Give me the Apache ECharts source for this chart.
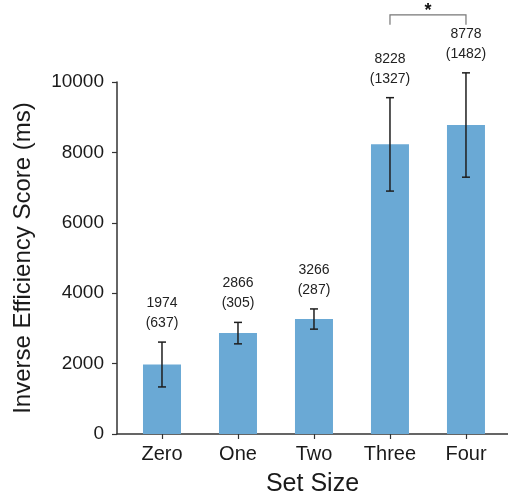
<!DOCTYPE html>
<html>
<head>
<meta charset="utf-8">
<script src="https://cdn.jsdelivr.net/npm/echarts@6/dist/echarts.min.js"></script>
<style>
  html, body { margin: 0; padding: 0; background: #fff; }
  #chart { width: 508px; height: 500px; }
</style>
</head>
<body>
<div id="chart"></div>
<script>
// Set-size conditions and their mean inverse efficiency scores (ms) with SD
const categories = ['Zero', 'One', 'Two', 'Three', 'Four'];
const meanScores = [1974, 2866, 3266, 8228, 8778];
const sdScores = [637, 305, 287, 1327, 1482];
const yTicks = [0, 2000, 4000, 6000, 8000, 10000];
// Significant comparison between two conditions (indices) and its marker
const sigPair = [3, 4];
const sigMark = '*';

const FONT = '"Liberation Sans", Arial, Helvetica, sans-serif';
const positions = categories.map((_, i) => i);

const barData = positions.map(i => [i, meanScores[i]]);
const errData = positions.map(i => [i, meanScores[i], sdScores[i]]);
const pairPeak = Math.max(...sigPair.map(i => meanScores[i] + sdScores[i]));
const sigData = [[sigPair[0], sigPair[1], pairPeak]];

const chart = echarts.init(document.getElementById('chart'), null, { renderer: 'canvas' });

chart.setOption({
  animation: false,
  backgroundColor: '#fff',
  grid: { left: 117, right: 0, top: 82, bottom: 66, containLabel: false, outerBoundsMode: 'none' },
  xAxis: {
    type: 'value',
    min: -0.592,
    max: 4.553,
    name: 'Set Size',
    nameLocation: 'middle',
    nameGap: 38,
    nameTextStyle: { fontFamily: FONT, fontSize: 25, color: '#1a1a1a' },
    splitLine: { show: false },
    axisLine: { show: true, onZero: false, lineStyle: { color: '#333', width: 1.5 } },
    axisTick: { show: true, customValues: positions, length: 5, lineStyle: { color: '#333', width: 1.2 } },
    axisLabel: {
      customValues: positions,
      margin: 10,
      fontFamily: FONT, fontSize: 20, color: '#1a1a1a',
      formatter: v => categories[Math.round(v)]
    }
  },
  yAxis: {
    type: 'value',
    min: yTicks[0],
    max: yTicks[yTicks.length - 1],
    interval: yTicks[1] - yTicks[0],
    name: 'Inverse Efficiency Score (ms)',
    nameLocation: 'middle',
    nameGap: 82,
    nameTextStyle: { fontFamily: FONT, fontSize: 24, color: '#1a1a1a' },
    splitLine: { show: false },
    axisLine: { show: true, onZero: false, lineStyle: { color: '#333', width: 1.5 } },
    axisTick: { show: true, length: 5, lineStyle: { color: '#333', width: 1.2 } },
    axisLabel: {
      margin: 13, fontFamily: FONT, fontSize: 19, color: '#1a1a1a',
      formatter: v => String(v)
    }
  },
  series: [
    {
      type: 'bar',
      data: barData,
      barWidth: 38,
      itemStyle: { color: '#6aa9d5' },
      z: 2
    },
    {
      // error bars (mean ± SD) with two-line value labels above
      type: 'custom',
      data: errData,
      encode: { x: 0, y: 1 },
      clip: false,
      z: 3,
      renderItem: (params, api) => {
        const i = api.value(0), m = api.value(1), s = api.value(2);
        const top = api.coord([i, m + s]);
        const bot = api.coord([i, m - s]);
        const cap = 4;
        const ls = { stroke: '#1e1e1e', lineWidth: 1.5 };
        return {
          type: 'group',
          children: [
            { type: 'line', shape: { x1: top[0], y1: top[1], x2: bot[0], y2: bot[1] }, style: ls },
            { type: 'line', shape: { x1: top[0] - cap, y1: top[1], x2: top[0] + cap, y2: top[1] }, style: ls },
            { type: 'line', shape: { x1: bot[0] - cap, y1: bot[1], x2: bot[0] + cap, y2: bot[1] }, style: ls },
            {
              type: 'text',
              x: top[0], y: top[1] - 9,
              style: {
                text: m + '\n(' + s + ')',
                align: 'center', verticalAlign: 'bottom',
                fontFamily: FONT, fontSize: 14, lineHeight: 20, fill: '#222'
              }
            }
          ]
        };
      }
    },
    {
      // significance bracket between the paired conditions
      type: 'custom',
      data: sigData,
      encode: { x: [0, 1], y: 2 },
      clip: false,
      z: 3,
      renderItem: (params, api) => {
        const a = api.coord([api.value(0), api.value(2)]);
        const b = api.coord([api.value(1), api.value(2)]);
        const legBottom = Math.min(a[1], b[1]) - 48;
        const barY = legBottom - 10;
        return {
          type: 'group',
          children: [
            {
              type: 'polyline',
              shape: { points: [[a[0], legBottom], [a[0], barY], [b[0], barY], [b[0], legBottom]] },
              style: { stroke: '#777', lineWidth: 1.2, fill: null }
            },
            {
              type: 'text',
              x: (a[0] + b[0]) / 2, y: barY - 4,
              style: {
                text: sigMark, align: 'center', verticalAlign: 'middle',
                fontFamily: FONT, fontSize: 18, fontWeight: 'bold', fill: '#111'
              }
            }
          ]
        };
      }
    }
  ]
});
</script>
</body>
</html>
